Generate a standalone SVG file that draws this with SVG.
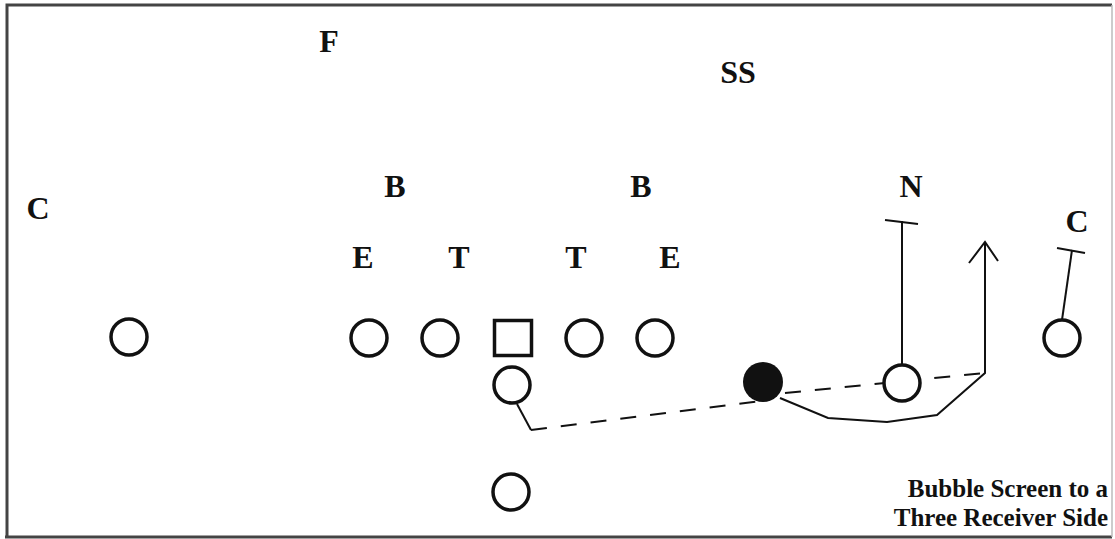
<svg xmlns="http://www.w3.org/2000/svg" width="1115" height="539" viewBox="0 0 1115 539">
<style>
.lbl{font-family:"Liberation Serif","Times New Roman",serif;font-weight:bold;font-size:32px;fill:#111;text-anchor:middle}
.cap{font-family:"Liberation Serif","Times New Roman",serif;font-weight:bold;font-size:25px;fill:#111;text-anchor:end}
.p{fill:#fff;stroke:#111;stroke-width:3.5}
.ln{fill:none;stroke:#111;stroke-width:2}
.dash{fill:none;stroke:#111;stroke-width:2;stroke-dasharray:16 14}
</style>
<rect x="0" y="0" width="1115" height="539" fill="#fff"/>
<g id="frame">
<path d="M7 538 V5 H1112" fill="none" stroke="#444" stroke-width="3"/>
<path d="M5 537 H1112" fill="none" stroke="#444" stroke-width="3"/>
<path d="M1112 5 V537" fill="none" stroke="#bbb" stroke-width="1.5"/>
</g>
<g id="defense">
<g id="F"><text class="lbl" x="329" y="52">F</text></g>
<g id="SS"><text class="lbl" x="738" y="83">SS</text></g>
<g id="B1"><text class="lbl" x="395" y="197">B</text></g>
<g id="B2"><text class="lbl" x="641" y="197">B</text></g>
<g id="C1"><text class="lbl" x="38" y="219">C</text></g>
<g id="N"><text class="lbl" x="911" y="197">N</text></g>
<g id="C2"><text class="lbl" x="1077" y="232">C</text></g>
<g id="E1"><text class="lbl" x="363" y="268">E</text></g>
<g id="T1"><text class="lbl" x="459" y="268">T</text></g>
<g id="T2"><text class="lbl" x="576" y="268">T</text></g>
<g id="E2"><text class="lbl" x="670" y="268">E</text></g>
</g>
<g id="connectors">
<path class="ln" d="M517 404 L531 430"/>
<path class="dash" d="M531 430 L762 401"/>
<path class="ln" d="M780 398 L828 418 L887 422 L937 415 L985 373 V242"/>
<path class="ln" d="M969 263 L985 242 L998 261"/>
<path class="dash" d="M785 393 L985 373"/>
<path class="ln" d="M902 364 V221"/>
<path class="ln" d="M885 220 L918 224"/>
<path class="ln" d="M1062 320 L1072 250"/>
<path class="ln" d="M1057 248 L1085 253"/>
</g>
<g id="offense">
<g id="WR1"><circle class="p" cx="129" cy="337" r="18"/></g>
<g id="LT"><circle class="p" cx="369" cy="338" r="18"/></g>
<g id="LG"><circle class="p" cx="440" cy="338" r="18"/></g>
<g id="Center"><rect class="p" x="494.5" y="320.5" width="37" height="35"/></g>
<g id="RG"><circle class="p" cx="584" cy="338" r="18"/></g>
<g id="RT"><circle class="p" cx="655" cy="338" r="18"/></g>
<g id="QB"><circle class="p" cx="512" cy="385" r="18"/></g>
<g id="RB"><circle class="p" cx="511" cy="492" r="18"/></g>
<g id="Ball"><circle cx="763" cy="382" r="20" fill="#111"/></g>
<g id="WR2"><circle class="p" cx="902" cy="383" r="18"/></g>
<g id="WR3"><circle class="p" cx="1062" cy="338" r="18"/></g>
</g>
<g id="caption">
<text class="cap" x="1108" y="497">Bubble Screen to a</text>
<text class="cap" x="1108" y="526">Three Receiver Side</text>
</g>
</svg>
